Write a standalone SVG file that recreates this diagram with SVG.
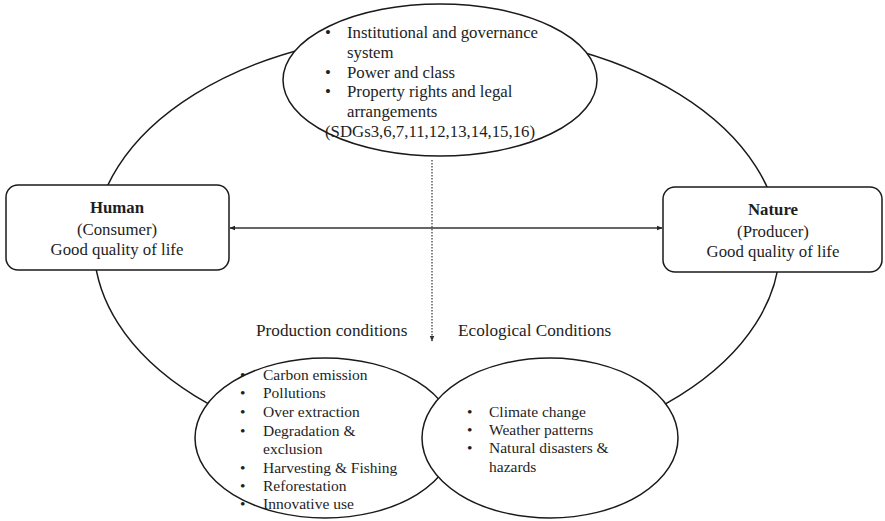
<svg xmlns="http://www.w3.org/2000/svg" width="885" height="521" viewBox="0 0 885 521">
  <style>
    .shape { fill: #fff; stroke: #1a1a1a; stroke-width: 1.5; }
    .ring { fill: none; stroke: #1a1a1a; stroke-width: 1.5; }
    .t { font-family: "Liberation Serif", "Times New Roman", serif; font-size: 15.5px; fill: #1e1e1e; }
    .m { font-size: 16.8px; }
    .lbl { font-size: 17.2px; }
    .c { text-anchor: middle; }
    .b { font-weight: bold; }
  </style>
  <defs>
    <marker id="arrow" viewBox="0 0 10 10" refX="9" refY="5" markerWidth="6" markerHeight="6" orient="auto-start-reverse" markerUnits="userSpaceOnUse">
      <path d="M0,1 L10,5 L0,9 z" fill="#222"/>
    </marker>
    <marker id="arrowSmall" viewBox="0 0 10 10" refX="9" refY="5" markerWidth="6" markerHeight="6" orient="auto" markerUnits="userSpaceOnUse">
      <path d="M0,1 L10,5 L0,9 z" fill="#333"/>
    </marker>
  </defs>

  <rect width="885" height="521" fill="#fff"/>

  <!-- outer cycle linking all parts -->
  <ellipse class="ring" cx="437" cy="245" rx="343" ry="213"/>

  <g id="connectors">
    <line x1="230" y1="228" x2="662" y2="228" stroke="#333" stroke-width="1.6" marker-start="url(#arrow)" marker-end="url(#arrow)"/>
    <line x1="432" y1="160" x2="432" y2="341" stroke="#444" stroke-width="1.3" stroke-dasharray="1.5 1.5" marker-end="url(#arrowSmall)"/>
  </g>

  <text class="t lbl" x="256" y="336">Production conditions</text>
  <text class="t lbl" x="458" y="336">Ecological Conditions</text>

  <g id="production">
    <ellipse class="shape" cx="325" cy="438" rx="130" ry="80"/>
    <g class="t">
      <text x="240" y="380">•</text><text x="263" y="380">Carbon emission</text>
      <text x="240" y="398">•</text><text x="263" y="398">Pollutions</text>
      <text x="240" y="417">•</text><text x="263" y="417">Over extraction</text>
      <text x="240" y="436">•</text><text x="263" y="436">Degradation &amp;</text>
      <text x="263" y="454">exclusion</text>
      <text x="240" y="473">•</text><text x="263" y="473">Harvesting &amp; Fishing</text>
      <text x="240" y="491">•</text><text x="263" y="491">Reforestation</text>
      <text x="240" y="509">•</text><text x="263" y="509">Innovative use</text>
    </g>
  </g>

  <g id="ecological">
    <ellipse class="shape" cx="550" cy="438" rx="128" ry="80"/>
    <g class="t">
      <text x="467" y="417">•</text><text x="489" y="417">Climate change</text>
      <text x="467" y="435">•</text><text x="489" y="435">Weather patterns</text>
      <text x="467" y="453">•</text><text x="489" y="453">Natural disasters &amp;</text>
      <text x="489" y="472">hazards</text>
    </g>
  </g>

  <g id="institutions">
    <ellipse class="shape" cx="440" cy="80" rx="157" ry="76"/>
    <g class="t m">
      <text x="325" y="38">•</text><text x="347" y="38">Institutional and governance</text>
      <text x="347" y="58">system</text>
      <text x="325" y="78">•</text><text x="347" y="78">Power and class</text>
      <text x="325" y="97">•</text><text x="347" y="97">Property rights and legal</text>
      <text x="347" y="117">arrangements</text>
      <text x="325" y="137">(SDGs3,6,7,11,12,13,14,15,16)</text>
    </g>
  </g>

  <g id="human">
    <rect class="shape" x="6" y="185" width="223" height="85" rx="12"/>
    <text class="t m c b" x="117" y="213">Human</text>
    <text class="t m c" x="117" y="235">(Consumer)</text>
    <text class="t m c" x="117" y="255">Good quality of life</text>
  </g>

  <g id="nature">
    <rect class="shape" x="663" y="187" width="219" height="85" rx="12"/>
    <text class="t m c b" x="773" y="215">Nature</text>
    <text class="t m c" x="773" y="237">(Producer)</text>
    <text class="t m c" x="773" y="257">Good quality of life</text>
  </g>
</svg>
